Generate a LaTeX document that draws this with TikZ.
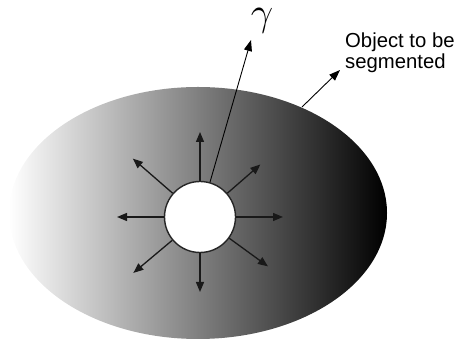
\documentclass[tikz,border=0pt]{standalone}
\usepackage{fontspec}
\setsansfont{Liberation Sans}
\usetikzlibrary{arrows.meta,calc}
\begin{document}
\begin{tikzpicture}[x=1pt,y=1pt,
  arr/.style={line width=1.3pt, draw=black!90, -{Triangle[length=10pt,width=8pt]}},
  thinarr/.style={line width=0.9pt, draw=black, -{Triangle[length=11pt,width=8pt]}},
  hole/.style={circle, draw=black!85, line width=1.4pt, fill=white, minimum size=71pt, inner sep=0pt}]
\useasboundingbox (0,0) rectangle (460,344);
\shade[left color=white, right color=black] (198,131) ellipse [x radius=189, y radius=126];
\node[hole] (c) at (200,127) {};
\foreach \a/\r in {0/83, 41/80, 90/85, 139/89, 180/83, 220/87, 270/75, 324/84}{
  \coordinate (t\a) at ($(c)+(\a:\r)$);
  \draw[arr] (c.\a) -- (t\a);
}
\coordinate (gtip) at (251,304);
\draw[thinarr] (c.74) -- (gtip);
\node[scale=1.6, inner sep=0pt] (gamma) at (262,323) {\Huge$\gamma$};
\coordinate (edge) at (302,237);
\coordinate (otip) at (340,274);
\draw[thinarr] (edge) -- (otip);
\node[anchor=north west, align=left, inner sep=0pt, font=\sffamily\fontsize{20.3}{20.5}\selectfont] (obj) at (345,311) {Object to be\\segmented};
\end{tikzpicture}
\end{document}
